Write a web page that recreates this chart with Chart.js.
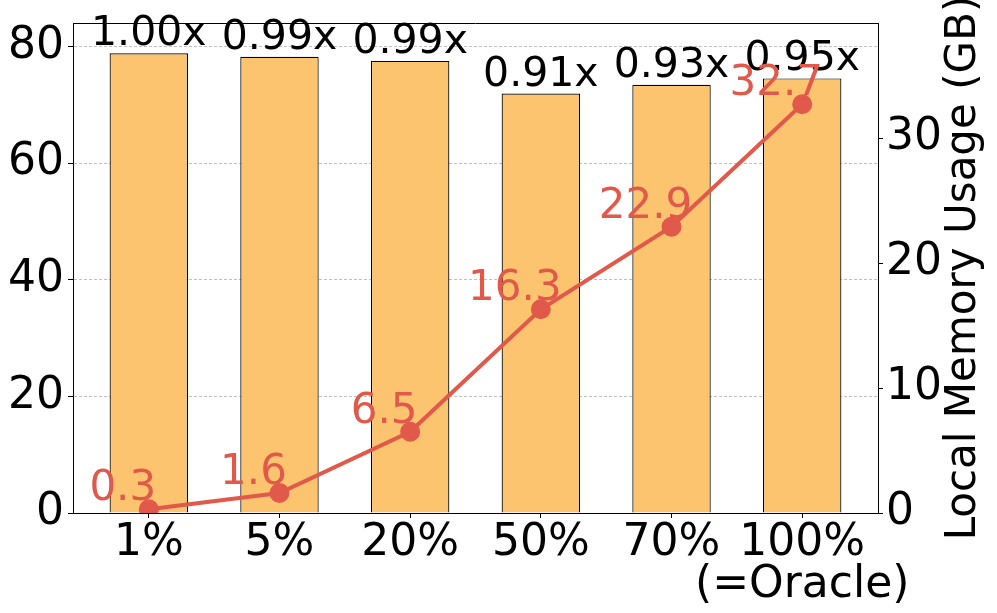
<!DOCTYPE html>
<html lang="en">
<head>
    <meta charset="UTF-8">
    <title>Local Memory Usage</title>
    <script src="https://cdn.jsdelivr.net/npm/chart.js"></script>
    <style>
        body { margin: 0; background-color: white; }
        .chart-box { width: 997px; height: 613px; position: relative; }
    </style>
</head>
<body>
    <div class="chart-box"><canvas id="memChart"></canvas></div>

    <script>
        // values
        const categories = ['1%', '5%', '20%', '50%', '70%', ['100%', '(=Oracle)']];
        const perfValues = [78.8, 78.2, 77.5, 71.9, 73.4, 74.5];
        const perfLabels = ['1.00x', '0.99x', '0.99x', '0.91x', '0.93x', '0.95x'];
        const memoryGB = [0.3, 1.6, 6.5, 16.3, 22.9, 32.7];
        const leftTicks = [0, 20, 40, 60, 80];
        const rightTicks = [0, 10, 20, 30];

        const barColor = '#fdc46f';
        const lineColor = '#e0594a';
        const fontFamily = '"DejaVu Sans", sans-serif';

        function fixedTicks(values) {
            return function (scale) {
                scale.ticks = values.map(v => ({ value: v }));
            };
        }

        function fixedSize(prop, size) {
            return function (scale) {
                scale[prop] = size;
                scale.paddingTop = 0;
                scale.paddingBottom = 0;
                scale.paddingLeft = 0;
                scale.paddingRight = 0;
            };
        }

        // labels on bars and points, frame top line, right axis title
        const extrasPlugin = {
            id: 'extras',
            afterDatasetsDraw(chart) {
                const ctx = chart.ctx;
                const area = chart.chartArea;

                ctx.save();
                ctx.strokeStyle = '#000';
                ctx.lineWidth = 1;
                ctx.beginPath();
                ctx.moveTo(area.left, Math.round(area.top) + 0.5);
                ctx.lineTo(area.right, Math.round(area.top) + 0.5);
                ctx.stroke();

                ctx.textAlign = 'center';
                ctx.textBaseline = 'alphabetic';

                const bars = chart.getDatasetMeta(0).data;
                ctx.font = '41px ' + fontFamily;
                ctx.fillStyle = '#000';
                bars.forEach((bar, i) => {
                    ctx.fillText(perfLabels[i], bar.x, bar.y - 8);
                });

                const points = chart.getDatasetMeta(1).data;
                ctx.font = '42px ' + fontFamily;
                ctx.fillStyle = lineColor;
                points.forEach((pt, i) => {
                    ctx.fillText(memoryGB[i].toFixed(1), pt.x - 26, pt.y - 9);
                });

                ctx.font = '42px ' + fontFamily;
                ctx.fillStyle = '#000';
                ctx.translate(975, (area.top + area.bottom) / 2);
                ctx.rotate(-Math.PI / 2);
                ctx.fillText('Local Memory Usage (GB)', 0, 0);
                ctx.restore();
            }
        };

        const ctx = document.getElementById('memChart').getContext('2d');
        new Chart(ctx, {
            data: {
                datasets: [{
                    type: 'bar',
                    label: 'Performance',
                    data: perfValues.map((v, i) => ({ x: i, y: v })),
                    backgroundColor: barColor,
                    borderColor: '#000',
                    borderWidth: 1.2,
                    barPercentage: 0.6,
                    categoryPercentage: 1.0,
                    yAxisID: 'y',
                    order: 2
                }, {
                    type: 'line',
                    label: 'Local Memory Usage',
                    data: memoryGB.map((v, i) => ({ x: i, y: v })),
                    borderColor: lineColor,
                    backgroundColor: lineColor,
                    borderWidth: 4,
                    pointRadius: 8,
                    pointHoverRadius: 8,
                    tension: 0,
                    yAxisID: 'y2',
                    order: 1
                }]
            },
            options: {
                responsive: true,
                maintainAspectRatio: false,
                animation: false,
                layout: { padding: { top: 23, left: 0, right: 0, bottom: 0 }, autoPadding: false },
                plugins: {
                    legend: { display: false },
                    tooltip: { enabled: false }
                },
                scales: {
                    x: {
                        type: 'linear',
                        position: 'bottom',
                        offset: false,
                        min: -0.58,
                        max: 5.58,
                        afterBuildTicks: fixedTicks(categories.map((c, i) => i)),
                        afterFit: fixedSize('height', 100),
                        grid: { offset: false, drawOnChartArea: false, tickLength: 5, tickColor: '#000' },
                        border: { color: '#000', width: 1 },
                        ticks: {
                            color: '#000',
                            padding: 4,
                            maxRotation: 0,
                            autoSkip: false,
                            font: { family: fontFamily, size: 44, lineHeight: 0.97 },
                            callback: value => categories[value]
                        }
                    },
                    y: {
                        position: 'left',
                        min: 0,
                        max: 84,
                        afterBuildTicks: fixedTicks(leftTicks),
                        afterFit: fixedSize('width', 73),
                        grid: { color: '#c0c0c0', lineWidth: 1, tickLength: 5, tickColor: '#000' },
                        border: { color: '#000', width: 1, dash: [3, 2] },
                        ticks: {
                            color: '#000',
                            padding: 4,
                            font: { family: fontFamily, size: 44 }
                        }
                    },
                    y2: {
                        position: 'right',
                        min: 0,
                        max: 39.2,
                        afterBuildTicks: fixedTicks(rightTicks),
                        afterFit: fixedSize('width', 119),
                        grid: { drawOnChartArea: false, tickLength: 5, tickColor: '#000' },
                        border: { color: '#000', width: 1 },
                        ticks: {
                            color: '#000',
                            padding: 3,
                            font: { family: fontFamily, size: 44 }
                        }
                    }
                }
            },
            plugins: [extrasPlugin]
        });
    </script>
</body>
</html>
